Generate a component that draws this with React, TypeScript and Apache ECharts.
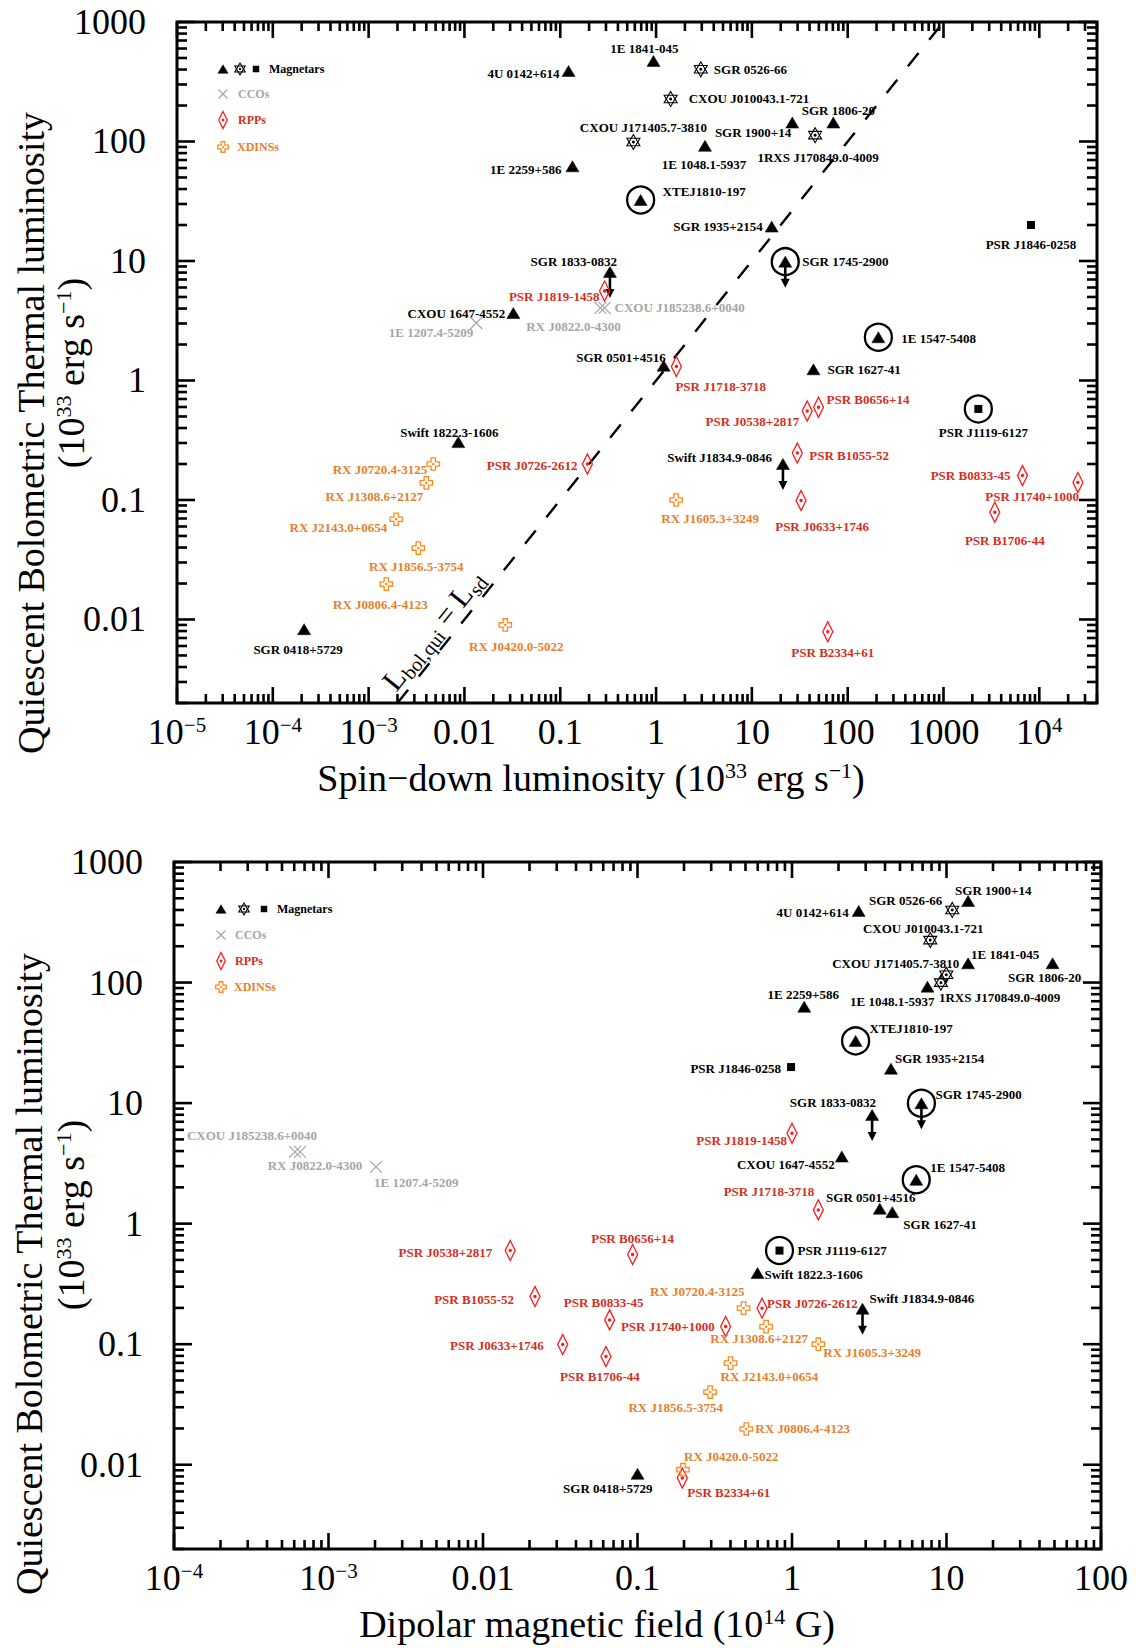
import React, { useEffect, useRef } from "react";
import * as echarts from "echarts";

const FONT = '"Liberation Serif", "Times New Roman", Times, serif';
const BLACK = "#000000";
const CCO_COLOR = "#a6a6a6";
const RPP_MARK = "#ff1a1a";
const RPP_TEXT = "#d3301e";
const XD_MARK = "#ff8a1c";
const XD_TEXT = "#e8802c";

// ---------------- axis ranges & tick labels ----------------
const TOP_X_MIN = 1e-5;
const TOP_X_MAX = 4e4;
const BOT_X_MIN = 1e-4;
const BOT_X_MAX = 100;
const Y_MIN = 0.002;
const Y_MAX = 1000;

const topXTickValues = [1e-5, 1e-4, 1e-3, 0.01, 0.1, 1, 10, 100, 1000, 1e4];
const topXTickLabels = ["10{s|−5}", "10{s|−4}", "10{s|−3}", "0.01", "0.1", "1", "10", "100", "1000", "10{s|4}"];
const botXTickValues = [1e-4, 1e-3, 0.01, 0.1, 1, 10, 100];
const botXTickLabels = ["10{s|−4}", "10{s|−3}", "0.01", "0.1", "1", "10", "100"];
const yTickValues = [0.01, 0.1, 1, 10, 100, 1000];
const yTickLabels = ["0.01", "0.1", "1", "10", "100", "1000"];

// L_bol = L_sd reference line (both coordinates)
const equalityLine = [0.002, 1000];

// sources drawn with a downward (upper-limit) arrow
const upperLimitNames = ["SGR 1833-0832", "SGR 1745-2900", "Swift J1834.9-0846"];

// ---------------- TOP PANEL: spin-down luminosity vs Lbol ----------------
const topTriNames = ["4U 0142+614", "1E 1841-045", "SGR 1900+14", "SGR 1806-20", "1E 1048.1-5937", "1E 2259+586", "SGR 1935+2154", "SGR 1833-0832", "CXOU 1647-4552", "SGR 0501+4516", "SGR 1627-41", "Swift 1822.3-1606", "Swift J1834.9-0846", "SGR 0418+5729"];
const topTriX = [0.122, 0.94, 26.4, 70.8, 3.24, 0.134, 16.1, 0.33, 0.0324, 1.2, 43.9, 0.00863, 21.1, 0.000212];
const topTriY = [389, 472, 144, 144, 92, 62, 19.4, 8.1, 3.67, 1.33, 1.24, 0.305, 0.2, 0.0083];

const topTriCNames = ["XTEJ1810-197", "SGR 1745-2900", "1E 1547-5408"];
const topTriCX = [0.69, 22.3, 209];
const topTriCY = [32.4, 9.87, 2.3];

const topStarNames = ["SGR 0526-66", "CXOU J010043.1-721", "CXOU J171405.7-3810", "1RXS J170849.0-4009"];
const topStarX = [2.93, 1.42, 0.58, 45.7];
const topStarY = [402, 227, 99, 113];

const topSqNames = ["PSR J1846-0258"];
const topSqX = [8180];
const topSqY = [20];

const topSqCNames = ["PSR J1119-6127"];
const topSqCX = [2310];
const topSqCY = [0.578];

const topCcoNames = ["CXOU J185238.6+0040", "RX J0822.0-4300", "1E 1207.4-5209"];
const topCcoX = [0.29, 0.263, 0.0133];
const topCcoY = [4.05, 4.05, 3.03];

const topRppNames = ["PSR J1819-1458", "PSR J1718-3718", "PSR B0656+14", "PSR J0538+2817", "PSR B1055-52", "PSR J0633+1746", "PSR B0833-45", "PSR J1740+1000", "PSR B1706-44", "PSR B2334+61", "PSR J0726-2612"];
const topRppX = [0.29, 1.63, 49.6, 37.8, 29.8, 32.6, 6670, 25300, 3430, 62, 0.192];
const topRppY = [5.6, 1.31, 0.597, 0.556, 0.247, 0.099, 0.16, 0.14, 0.079, 0.0079, 0.2];

const topXdNames = ["RX J0720.4-3125", "RX J1308.6+2127", "RX J2143.0+0654", "RX J1856.5-3754", "RX J0806.4-4123", "RX J0420.0-5022", "RX J1605.3+3249"];
const topXdX = [0.00473, 0.004, 0.00194, 0.0033, 0.00153, 0.0267, 1.62];
const topXdY = [0.2, 0.139, 0.069, 0.0396, 0.0198, 0.009, 0.1];

// ---------------- BOTTOM PANEL: dipolar field vs Lbol ----------------
const botTriNames = ["4U 0142+614", "1E 1841-045", "SGR 1900+14", "SGR 1806-20", "1E 1048.1-5937", "1E 2259+586", "SGR 1935+2154", "SGR 1833-0832", "CXOU 1647-4552", "SGR 0501+4516", "SGR 1627-41", "Swift 1822.3-1606", "Swift J1834.9-0846", "SGR 0418+5729"];
const botTriX = [2.7, 13.8, 13.8, 48.6, 7.53, 1.2, 4.37, 3.3, 2.1, 3.7, 4.46, 0.598, 2.86, 0.1];
const botTriY = [393, 144.5, 475, 144.5, 92.5, 63, 19.3, 7.98, 3.6, 1.33, 1.245, 0.389, 0.197, 0.0084];

const botTriCNames = ["XTEJ1810-197", "SGR 1745-2900", "1E 1547-5408"];
const botTriCX = [2.58, 6.88, 6.37];
const botTriCY = [32.8, 9.97, 2.31];

const botStarNames = ["SGR 0526-66", "CXOU J010043.1-721", "CXOU J171405.7-3810", "1RXS J170849.0-4009"];
const botStarX = [10.9, 7.85, 9.97, 9.2];
const botStarY = [400, 225, 116, 99.8];

const botSqNames = ["PSR J1846-0258"];
const botSqX = [0.986];
const botSqY = [19.9];

const botSqCNames = ["PSR J1119-6127"];
const botSqCX = [0.83];
const botSqCY = [0.598];

const botCcoNames = ["CXOU J185238.6+0040", "RX J0822.0-4300", "1E 1207.4-5209"];
const botCcoX = [0.000655, 0.000607, 0.00203];
const botCcoY = [3.94, 3.94, 2.96];

const botRppNames = ["PSR J1819-1458", "PSR J1718-3718", "PSR B0656+14", "PSR J0538+2817", "PSR B1055-52", "PSR J0633+1746", "PSR B0833-45", "PSR J1740+1000", "PSR B1706-44", "PSR B2334+61", "PSR J0726-2612"];
const botRppX = [1.0, 1.48, 0.093, 0.015, 0.0217, 0.0328, 0.066, 0.372, 0.0625, 0.195, 0.64];
const botRppY = [5.62, 1.3, 0.555, 0.598, 0.249, 0.0995, 0.159, 0.14, 0.079, 0.00776, 0.199];

const botXdNames = ["RX J0720.4-3125", "RX J1308.6+2127", "RX J2143.0+0654", "RX J1856.5-3754", "RX J0806.4-4123", "RX J0420.0-5022", "RX J1605.3+3249"];
const botXdX = [0.486, 0.68, 0.4, 0.295, 0.506, 0.197, 1.48];
const botXdY = [0.199, 0.14, 0.0697, 0.0401, 0.0198, 0.0091, 0.1];

// ---------------- label placement (layout only): [dx, dy, align] ----------------
type LP = [number, number, string];
const topLabelLayout: Record<string, LP> = {
  "4U 0142+614": [-9, 3, "right"],
  "1E 1841-045": [-9, -12, "center"],
  "SGR 1900+14": [-1, 10, "right"],
  "SGR 1806-20": [5, -12, "center"],
  "1E 1048.1-5937": [-1, 19, "center"],
  "1E 2259+586": [-11, 3, "right"],
  "SGR 1935+2154": [-9, 0, "right"],
  "SGR 1833-0832": [7, -10, "right"],
  "CXOU 1647-4552": [-8, 0, "right"],
  "SGR 0501+4516": [2, -8, "right"],
  "SGR 1627-41": [14, 0, "left"],
  "Swift 1822.3-1606": [-9, -10, "center"],
  "Swift J1834.9-0846": [-11, -7, "right"],
  "SGR 0418+5729": [-6, 20, "center"],
  "XTEJ1810-197": [22, -8, "left"],
  "SGR 1745-2900": [17, 0, "left"],
  "1E 1547-5408": [23, 1, "left"],
  "SGR 0526-66": [13, 0, "left"],
  "CXOU J010043.1-721": [18, 0, "left"],
  "CXOU J171405.7-3810": [10, -15, "center"],
  "1RXS J170849.0-4009": [3, 22, "center"],
  "PSR J1846-0258": [0, 19, "center"],
  "PSR J1119-6127": [5, 24, "center"],
  "CXOU J185238.6+0040": [10, 0, "left"],
  "RX J0822.0-4300": [-27, 19, "center"],
  "1E 1207.4-5209": [-3, 10, "right"],
  "PSR J1819-1458": [-5, 5, "right"],
  "PSR J1718-3718": [-1, 20, "left"],
  "PSR B0656+14": [8, -8, "left"],
  "PSR J0538+2817": [-8, 11, "right"],
  "PSR B1055-52": [12, 2, "left"],
  "PSR J0633+1746": [21, 26, "center"],
  "PSR B0833-45": [-12, 0, "right"],
  "PSR J1740+1000": [1, 14, "right"],
  "PSR B1706-44": [10, 28, "center"],
  "PSR B2334+61": [5, 21, "center"],
  "PSR J0726-2612": [-10, 1, "right"],
  "RX J0720.4-3125": [-6, 5, "right"],
  "RX J1308.6+2127": [-3, 14, "right"],
  "RX J2143.0+0654": [-9, 8, "right"],
  "RX J1856.5-3754": [-2, 18, "center"],
  "RX J0806.4-4123": [-6, 20, "center"],
  "RX J0420.0-5022": [11, 22, "center"],
  "RX J1605.3+3249": [34, 19, "center"],
};
const botLabelLayout: Record<string, LP> = {
  "4U 0142+614": [-10, 2, "right"],
  "SGR 0526-66": [-10, -9, "right"],
  "SGR 1900+14": [-13, -10, "left"],
  "CXOU J010043.1-721": [-7, -12, "center"],
  "1E 1841-045": [3, -9, "left"],
  "SGR 1806-20": [-8, 14, "center"],
  "CXOU J171405.7-3810": [13, -11, "right"],
  "1RXS J170849.0-4009": [-2, 15, "left"],
  "1E 1048.1-5937": [7, 15, "right"],
  "1E 2259+586": [-1, -12, "center"],
  "XTEJ1810-197": [14, -12, "left"],
  "PSR J1846-0258": [-10, 1, "right"],
  "SGR 1935+2154": [4, -10, "left"],
  "SGR 1745-2900": [14, -9, "left"],
  "SGR 1833-0832": [4, -12, "right"],
  "PSR J1819-1458": [-5, 7, "right"],
  "CXOU 1647-4552": [-7, 8, "right"],
  "CXOU J185238.6+0040": [17, -16, "right"],
  "RX J0822.0-4300": [20, 14, "center"],
  "1E 1207.4-5209": [-2, 16, "left"],
  "PSR J0538+2817": [-18, 2, "right"],
  "PSR B0656+14": [0, -16, "center"],
  "PSR B1055-52": [-21, 3, "right"],
  "PSR B0833-45": [-6, -17, "center"],
  "PSR J0633+1746": [-19, 1, "right"],
  "PSR B1706-44": [-6, 20, "center"],
  "PSR J1740+1000": [-11, 0, "right"],
  "SGR 0418+5729": [15, 15, "right"],
  "1E 1547-5408": [14, -12, "left"],
  "PSR J1718-3718": [-4, -18, "right"],
  "SGR 0501+4516": [-9, -11, "center"],
  "SGR 1627-41": [11, 12, "left"],
  "PSR J1119-6127": [18, 0, "left"],
  "Swift 1822.3-1606": [7, 1, "left"],
  "RX J0720.4-3125": [1, -17, "right"],
  "PSR J0726-2612": [5, -5, "left"],
  "Swift J1834.9-0846": [7, -10, "left"],
  "RX J1308.6+2127": [-7, 12, "center"],
  "RX J1605.3+3249": [5, 8, "left"],
  "RX J2143.0+0654": [-10, 13, "left"],
  "RX J1856.5-3754": [13, 15, "right"],
  "RX J0806.4-4123": [9, 0, "left"],
  "RX J0420.0-5022": [1, -13, "left"],
  "PSR B2334+61": [5, 14, "left"],
};

// ---------------- marker drawing helpers ----------------
function lineEl(x1: number, y1: number, x2: number, y2: number, stroke: string, lw: number) {
  return { type: "line", shape: { x1, y1, x2, y2 }, style: { stroke, lineWidth: lw } };
}
function triEl(x: number, y: number, s: number) {
  return {
    type: "polygon",
    shape: { points: [[x, y - 5.5 * s], [x + 6.5 * s, y + 5.5 * s], [x - 6.5 * s, y + 5.5 * s]] },
    style: { fill: BLACK, stroke: BLACK, lineWidth: 0.5 },
  };
}
function sqEl(x: number, y: number, s: number) {
  const h = 4 * s;
  return { type: "rect", shape: { x: x - h, y: y - h, width: 2 * h, height: 2 * h }, style: { fill: BLACK } };
}
function ringEl(x: number, y: number) {
  return { type: "circle", shape: { cx: x, cy: y, r: 13.5 }, style: { fill: "none", stroke: BLACK, lineWidth: 2.3 } };
}
function markerEls(kind: string, x: number, y: number, s = 1): any[] {
  switch (kind) {
    case "tri":
      return [triEl(x, y, s)];
    case "triC":
      return [ringEl(x, y), triEl(x, y, s)];
    case "sq":
      return [sqEl(x, y, s)];
    case "sqC":
      return [ringEl(x, y), sqEl(x, y, s)];
    case "star": {
      const R = 7.5 * s;
      const dx = R * 0.866;
      const dy = R * 0.5;
      const st = { fill: "none", stroke: BLACK, lineWidth: 1.1 };
      return [
        { type: "polygon", shape: { points: [[x, y - R], [x + dx, y + dy], [x - dx, y + dy]] }, style: st },
        { type: "polygon", shape: { points: [[x, y + R], [x - dx, y - dy], [x + dx, y - dy]] }, style: st },
        { type: "circle", shape: { cx: x, cy: y, r: 1.5 * s }, style: { fill: BLACK } },
      ];
    }
    case "cco": {
      const h = 6 * s;
      return [lineEl(x - h, y - h, x + h, y + h, CCO_COLOR, 1.2), lineEl(x - h, y + h, x + h, y - h, CCO_COLOR, 1.2)];
    }
    case "rpp": {
      const w = 5 * s;
      const h = 10 * s;
      return [
        { type: "polygon", shape: { points: [[x, y - h], [x + w, y], [x, y + h], [x - w, y]] }, style: { fill: "none", stroke: RPP_MARK, lineWidth: 1.3 } },
        { type: "circle", shape: { cx: x, cy: y, r: 1.7 * s }, style: { fill: RPP_MARK } },
      ];
    }
    case "xd": {
      const a = 2.2 * s;
      const b = 6.2 * s;
      return [
        {
          type: "polygon",
          shape: {
            points: [[x - a, y - b], [x + a, y - b], [x + a, y - a], [x + b, y - a], [x + b, y + a], [x + a, y + a], [x + a, y + b], [x - a, y + b], [x - a, y + a], [x - b, y + a], [x - b, y - a], [x - a, y - a]],
          },
          style: { fill: "none", stroke: XD_MARK, lineWidth: 1.3 },
        },
        { type: "circle", shape: { cx: x, cy: y, r: 1.3 * s }, style: { fill: XD_MARK } },
      ];
    }
  }
  return [];
}
function arrowEls(x: number, y: number) {
  return [
    lineEl(x, y + 3, x, y + 19, BLACK, 2.6),
    { type: "polygon", shape: { points: [[x - 4.5, y + 17], [x + 4.5, y + 17], [x, y + 26]] }, style: { fill: BLACK } },
  ];
}
const labelColor: Record<string, string> = {
  tri: BLACK, triC: BLACK, sq: BLACK, sqC: BLACK, star: BLACK, cco: CCO_COLOR, rpp: RPP_TEXT, xd: XD_TEXT,
};

function textEl(text: string, x: number, y: number, align: string, fill: string, font: string) {
  return {
    type: "text",
    x,
    y,
    style: { text, align, textAlign: align, verticalAlign: "middle", textVerticalAlign: "middle", fill, font },
  };
}

function pointSeries(gi: number, kind: string, names: string[], xs: number[], ys: number[], layout: Record<string, LP>) {
  return {
    type: "custom",
    xAxisIndex: gi,
    yAxisIndex: gi,
    clip: false,
    silent: true,
    z: 10,
    data: xs.map((x, i) => [x, ys[i]]),
    renderItem: (params: any, api: any) => {
      const p = api.coord([api.value(0), api.value(1)]);
      const name = names[params.dataIndex];
      const ch: any[] = [];
      if (upperLimitNames.indexOf(name) >= 0) ch.push(...arrowEls(p[0], p[1]));
      ch.push(...markerEls(kind, p[0], p[1], 1));
      const lp = layout[name] || [10, 0, "left"];
      ch.push(textEl(name, p[0] + lp[0], p[1] + lp[1], lp[2], labelColor[kind], `bold 13px ${FONT}`));
      return { type: "group", children: ch };
    },
  };
}

function logTicks(min: number, max: number) {
  const out: number[][] = [];
  for (let k = Math.floor(Math.log10(min)); k <= Math.ceil(Math.log10(max)); k++) {
    for (let m = 1; m <= 9; m++) {
      const v = m * Math.pow(10, k);
      if (v >= min * 0.999999 && v <= max * 1.000001) out.push([v, m === 1 ? 1 : 0]);
    }
  }
  return out;
}

function tickSeries(gi: number, xMin: number, xMax: number, yMin: number, yMax: number) {
  const data = [
    ...logTicks(xMin, xMax).map((t) => [t[0], yMin, 0, t[1]]),
    ...logTicks(yMin, yMax).map((t) => [xMin, t[0], 1, t[1]]),
  ];
  return {
    type: "custom",
    xAxisIndex: gi,
    yAxisIndex: gi,
    clip: false,
    silent: true,
    z: 5,
    data,
    renderItem: (params: any, api: any) => {
      const isY = api.value(2) === 1;
      const major = api.value(3) === 1;
      const st = { stroke: BLACK, lineWidth: 2.6 };
      if (!isY) {
        const v = api.value(0);
        const a = api.coord([v, yMin]);
        const b = api.coord([v, yMax]);
        const L = major ? 16 : 9;
        return {
          type: "group",
          children: [
            { type: "line", shape: { x1: a[0], y1: a[1], x2: a[0], y2: a[1] - L }, style: st },
            { type: "line", shape: { x1: b[0], y1: b[1], x2: b[0], y2: b[1] + L }, style: st },
          ],
        };
      }
      const v = api.value(1);
      const a = api.coord([xMin, v]);
      const b = api.coord([xMax, v]);
      const L = major ? 18 : 10;
      return {
        type: "group",
        children: [
          { type: "line", shape: { x1: a[0], y1: a[1], x2: a[0] + L, y2: a[1] }, style: st },
          { type: "line", shape: { x1: b[0], y1: b[1], x2: b[0] - L, y2: b[1] }, style: st },
        ],
      };
    },
  };
}

function tickFormatter(values: number[], labels: string[]) {
  return (v: number) => {
    const lv = Math.log10(v);
    for (let i = 0; i < values.length; i++) {
      if (Math.abs(Math.log10(values[i]) - lv) < 1e-6) return labels[i];
    }
    return "";
  };
}

function logAxis(gridIndex: number, min: number, max: number, values: number[], labels: string[], isX: boolean) {
  return {
    type: "log",
    logBase: 10,
    gridIndex,
    min,
    max,
    splitNumber: 10,
    axisLine: { show: false },
    axisTick: { show: false },
    minorTick: { show: false },
    splitLine: { show: false },
    axisLabel: {
      show: true,
      margin: isX ? 11 : 31,
      fontSize: 36,
      fontFamily: FONT,
      color: BLACK,
      formatter: tickFormatter(values, labels),
      rich: { s: { fontSize: 21, fontFamily: FONT, color: BLACK, verticalAlign: "top" } },
    },
  };
}

function legendEls(mx: number, rows: number[], starX: number, sqX: number, magTextX: number, textX: number) {
  const f = `bold 12px ${FONT}`;
  return [
    ...markerEls("tri", mx, rows[0], 0.78),
    ...markerEls("star", starX, rows[0], 0.8),
    ...markerEls("sq", sqX, rows[0], 0.8),
    textEl("Magnetars", magTextX, rows[0], "left", BLACK, f),
    ...markerEls("cco", mx, rows[1], 0.75),
    textEl("CCOs", textX, rows[1], "left", CCO_COLOR, f),
    ...markerEls("rpp", mx, rows[2], 0.85),
    textEl("RPPs", textX, rows[2], "left", RPP_TEXT, f),
    ...markerEls("xd", mx, rows[3], 0.85),
    textEl("XDINSs", textX - 1, rows[3], "left", XD_TEXT, f),
  ];
}

function richTitle(text: string, x: number, y: number, rotation: number) {
  return {
    type: "text",
    x,
    y,
    rotation,
    style: {
      text,
      fontSize: 38,
      fontFamily: FONT,
      fill: BLACK,
      align: "center",
      textAlign: "center",
      verticalAlign: "middle",
      textVerticalAlign: "middle",
      rich: { s: { fontSize: 22, fontFamily: FONT, fill: BLACK, verticalAlign: "top" } },
    },
  };
}

// "L_bol,qui = L_sd" annotation, laid out along the dashed line
function equalityLabel(cx: number, cy: number, angle: number) {
  const big = `30px ${FONT}`;
  const small = `20px ${FONT}`;
  const parts: [string, number, number, string][] = [
    ["L", 0, 0, big],
    ["bol,qui", 19, 8, small],
    ["=", 83, 0, big],
    ["L", 107, 0, big],
    ["sd", 126, 8, small],
  ];
  const total = 144;
  return {
    type: "group",
    x: cx,
    y: cy,
    rotation: angle,
    children: parts.map(([t, dx, dy, font]) => ({
      type: "text",
      x: dx - total / 2,
      y: dy,
      style: { text: t, font, fill: BLACK, align: "left", textAlign: "left", verticalAlign: "middle", textVerticalAlign: "middle" },
    })),
  };
}

export default function App() {
  const ref = useRef<HTMLDivElement>(null);
  useEffect(() => {
    document.body.style.margin = "0";
    if (!ref.current) return;
    const chart = echarts.init(ref.current, undefined, { renderer: "svg" });
    const lineAngle = Math.atan(119.5 / 95.75);
    const option: any = {
      animation: false,
      textStyle: { fontFamily: FONT },
      grid: [
        { left: 177, top: 22, width: 920, height: 681, show: true, borderColor: BLACK, borderWidth: 3, backgroundColor: "transparent" },
        { left: 174, top: 862, width: 927, height: 687, show: true, borderColor: BLACK, borderWidth: 3, backgroundColor: "transparent" },
      ],
      xAxis: [
        logAxis(0, TOP_X_MIN, TOP_X_MAX, topXTickValues, topXTickLabels, true),
        logAxis(1, BOT_X_MIN, BOT_X_MAX, botXTickValues, botXTickLabels, true),
      ],
      yAxis: [
        logAxis(0, Y_MIN, Y_MAX, yTickValues, yTickLabels, false),
        logAxis(1, Y_MIN, Y_MAX, yTickValues, yTickLabels, false),
      ],
      series: [
        tickSeries(0, TOP_X_MIN, TOP_X_MAX, Y_MIN, Y_MAX),
        tickSeries(1, BOT_X_MIN, BOT_X_MAX, Y_MIN, Y_MAX),
        {
          type: "line",
          xAxisIndex: 0,
          yAxisIndex: 0,
          data: [[equalityLine[0], equalityLine[0]], [equalityLine[1], equalityLine[1]]],
          showSymbol: false,
          symbol: "none",
          silent: true,
          z: 3,
          lineStyle: { color: BLACK, width: 2.4, type: [17, 17] },
        },
        pointSeries(0, "tri", topTriNames, topTriX, topTriY, topLabelLayout),
        pointSeries(0, "triC", topTriCNames, topTriCX, topTriCY, topLabelLayout),
        pointSeries(0, "star", topStarNames, topStarX, topStarY, topLabelLayout),
        pointSeries(0, "sq", topSqNames, topSqX, topSqY, topLabelLayout),
        pointSeries(0, "sqC", topSqCNames, topSqCX, topSqCY, topLabelLayout),
        pointSeries(0, "cco", topCcoNames, topCcoX, topCcoY, topLabelLayout),
        pointSeries(0, "rpp", topRppNames, topRppX, topRppY, topLabelLayout),
        pointSeries(0, "xd", topXdNames, topXdX, topXdY, topLabelLayout),
        pointSeries(1, "tri", botTriNames, botTriX, botTriY, botLabelLayout),
        pointSeries(1, "triC", botTriCNames, botTriCX, botTriCY, botLabelLayout),
        pointSeries(1, "star", botStarNames, botStarX, botStarY, botLabelLayout),
        pointSeries(1, "sq", botSqNames, botSqX, botSqY, botLabelLayout),
        pointSeries(1, "sqC", botSqCNames, botSqCX, botSqCY, botLabelLayout),
        pointSeries(1, "cco", botCcoNames, botCcoX, botCcoY, botLabelLayout),
        pointSeries(1, "rpp", botRppNames, botRppX, botRppY, botLabelLayout),
        pointSeries(1, "xd", botXdNames, botXdX, botXdY, botLabelLayout),
      ],
      graphic: {
        elements: [
          ...legendEls(223, [69, 94, 120, 147], 240, 256, 269, 238),
          ...legendEls(221, [909, 935, 961, 987], 244, 264, 277, 235),
          richTitle("Spin−down luminosity (10{s|33} erg s{s|−1})", 591, 778, 0),
          richTitle("Dipolar magnetic field (10{s|14} G)", 597, 1624, 0),
          richTitle("Quiescent Bolometric Thermal luminosity", 31, 433, Math.PI / 2),
          richTitle("(10{s|33} erg s{s|−1})", 71, 373, Math.PI / 2),
          richTitle("Quiescent Bolometric Thermal luminosity", 29, 1274, Math.PI / 2),
          richTitle("(10{s|33} erg s{s|−1})", 71, 1215, Math.PI / 2),
          equalityLabel(433, 630, lineAngle),
        ],
      },
    };
    chart.setOption(option);
    return () => chart.dispose();
  }, []);
  return <div ref={ref} style={{ width: 1136, height: 1648 }} />;
}
